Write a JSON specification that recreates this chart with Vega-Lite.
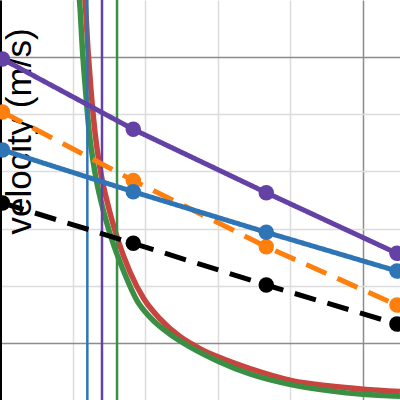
{
  "$schema": "https://vega.github.io/schema/vega-lite/v6.json",
  "width": 400,
  "height": 400,
  "autosize": "none",
  "padding": 0,
  "background": "white",
  "config": {"view": {"stroke": null}},
  "datasets": {
    "curves": [
      {"name": "red", "x": 1.157, "y": 11.175},
      {"name": "red", "x": 1.171, "y": 11.0},
      {"name": "red", "x": 1.212, "y": 10.125},
      {"name": "red", "x": 1.253, "y": 9.425},
      {"name": "red", "x": 1.302, "y": 8.76},
      {"name": "red", "x": 1.377, "y": 8.06},
      {"name": "red", "x": 1.488, "y": 7.41},
      {"name": "red", "x": 1.625, "y": 6.8},
      {"name": "red", "x": 1.791, "y": 6.24},
      {"name": "red", "x": 1.977, "y": 5.78},
      {"name": "red", "x": 2.204, "y": 5.42},
      {"name": "red", "x": 2.479, "y": 5.11},
      {"name": "red", "x": 2.755, "y": 4.9},
      {"name": "red", "x": 3.003, "y": 4.755},
      {"name": "red", "x": 3.444, "y": 4.55},
      {"name": "red", "x": 4.022, "y": 4.34},
      {"name": "red", "x": 4.545, "y": 4.245},
      {"name": "red", "x": 5.0, "y": 4.19},
      {"name": "red", "x": 5.51, "y": 4.15},
      {"name": "green", "x": 1.081, "y": 11.175},
      {"name": "green", "x": 1.095, "y": 11.0},
      {"name": "green", "x": 1.136, "y": 10.125},
      {"name": "green", "x": 1.178, "y": 9.425},
      {"name": "green", "x": 1.226, "y": 8.725},
      {"name": "green", "x": 1.302, "y": 8.025},
      {"name": "green", "x": 1.405, "y": 7.41},
      {"name": "green", "x": 1.543, "y": 6.8},
      {"name": "green", "x": 1.708, "y": 6.24},
      {"name": "green", "x": 1.887, "y": 5.74},
      {"name": "green", "x": 2.066, "y": 5.45},
      {"name": "green", "x": 2.342, "y": 5.15},
      {"name": "green", "x": 2.617, "y": 4.93},
      {"name": "green", "x": 3.003, "y": 4.68},
      {"name": "green", "x": 3.444, "y": 4.455},
      {"name": "green", "x": 4.022, "y": 4.265},
      {"name": "green", "x": 4.545, "y": 4.16},
      {"name": "green", "x": 5.0, "y": 4.1},
      {"name": "green", "x": 5.51, "y": 4.065}
    ],
    "vlines": [
      {"name": "blue", "x": 1.203},
      {"name": "purple", "x": 1.405},
      {"name": "green", "x": 1.612}
    ],
    "series": [
      {"name": "black", "x": 0.034, "y": 7.4475},
      {"name": "black", "x": 1.836, "y": 6.742},
      {"name": "black", "x": 3.668, "y": 6.0125},
      {"name": "black", "x": 5.468, "y": 5.33},
      {"name": "orange", "x": 0.034, "y": 9.04},
      {"name": "orange", "x": 1.836, "y": 7.841},
      {"name": "orange", "x": 3.668, "y": 6.683},
      {"name": "orange", "x": 5.468, "y": 5.6625},
      {"name": "blue", "x": 0.034, "y": 8.375},
      {"name": "blue", "x": 1.836, "y": 7.645},
      {"name": "blue", "x": 3.668, "y": 6.935},
      {"name": "blue", "x": 5.468, "y": 6.2575},
      {"name": "purple", "x": 0.034, "y": 9.9675},
      {"name": "purple", "x": 1.836, "y": 8.737},
      {"name": "purple", "x": 3.668, "y": 7.628},
      {"name": "purple", "x": 5.468, "y": 6.567}
    ]
  },
  "layer": [
    {
      "data": {"name": "curves"},
      "mark": {"type": "line", "clip": true, "strokeWidth": 5.5, "interpolate": "monotone"},
      "encoding": {
        "x": {
          "field": "x", "type": "quantitative",
          "scale": {"domain": [0, 5.51], "nice": false, "zero": false},
          "axis": {
            "values": [0, 1, 2, 3, 4, 5],
            "grid": true,
            "gridColor": {"condition": {"test": "datum.value === 0 || datum.value === 5", "value": "#8c8c8c"}, "value": "#dcdcdc"},
            "gridWidth": 1.5,
            "domain": false, "ticks": false, "labels": false, "title": null
          }
        },
        "y": {
          "field": "y", "type": "quantitative",
          "scale": {"domain": [4, 11], "nice": false, "zero": false},
          "axis": {
            "values": [5, 6, 7, 8, 9, 10],
            "grid": true,
            "gridColor": {"condition": {"test": "datum.value === 5 || datum.value === 10", "value": "#8c8c8c"}, "value": "#dcdcdc"},
            "gridWidth": 1.5,
            "domain": true, "domainColor": "#000000", "domainWidth": 3,
            "ticks": false, "labels": false,
            "title": "velocity (m/s)",
            "titleFont": "Liberation Sans",
            "titleFontSize": 35,
            "titleFontWeight": "normal",
            "titleColor": "#000000",
            "titleAngle": 270,
            "titleAlign": "center",
            "titleBaseline": "alphabetic",
            "titleX": 30,
            "titleY": 131
          }
        },
        "detail": {"field": "name", "type": "nominal"},
        "color": {"field": "name", "type": "nominal", "legend": null,
          "scale": {"domain": ["black", "orange", "blue", "purple", "red", "green"], "range": ["#000000", "#ff7f0e", "#2f74b5", "#6441a5", "#c8443f", "#3b8f45"]}}
      }
    },
    {
      "data": {"name": "vlines"},
      "mark": {"type": "rule", "clip": true, "strokeWidth": 2.5},
      "encoding": {
        "x": {"field": "x", "type": "quantitative"},
        "color": {"field": "name", "type": "nominal", "legend": null,
          "scale": {"domain": ["black", "orange", "blue", "purple", "red", "green"], "range": ["#000000", "#ff7f0e", "#2f74b5", "#6441a5", "#c8443f", "#3b8f45"]}}
      }
    },
    {
      "data": {"name": "series"},
      "mark": {"type": "line", "clip": true, "strokeWidth": 5, "strokeCap": "butt"},
      "encoding": {
        "x": {"field": "x", "type": "quantitative"},
        "y": {"field": "y", "type": "quantitative"},
        "color": {"field": "name", "type": "nominal", "legend": null,
          "scale": {"domain": ["black", "orange", "blue", "purple", "red", "green"], "range": ["#000000", "#ff7f0e", "#2f74b5", "#6441a5", "#c8443f", "#3b8f45"]}},
        "strokeDash": {"field": "name", "type": "nominal", "legend": null,
          "scale": {"domain": ["black", "orange", "blue", "purple"], "range": [[22, 12], [22, 12], [1, 0], [1, 0]]}}
      }
    },
    {
      "data": {"name": "series"},
      "mark": {"type": "circle", "clip": true, "size": 240, "opacity": 1},
      "encoding": {
        "x": {"field": "x", "type": "quantitative"},
        "y": {"field": "y", "type": "quantitative"},
        "color": {"field": "name", "type": "nominal", "legend": null,
          "scale": {"domain": ["black", "orange", "blue", "purple", "red", "green"], "range": ["#000000", "#ff7f0e", "#2f74b5", "#6441a5", "#c8443f", "#3b8f45"]}}
      }
    }
  ]
}
